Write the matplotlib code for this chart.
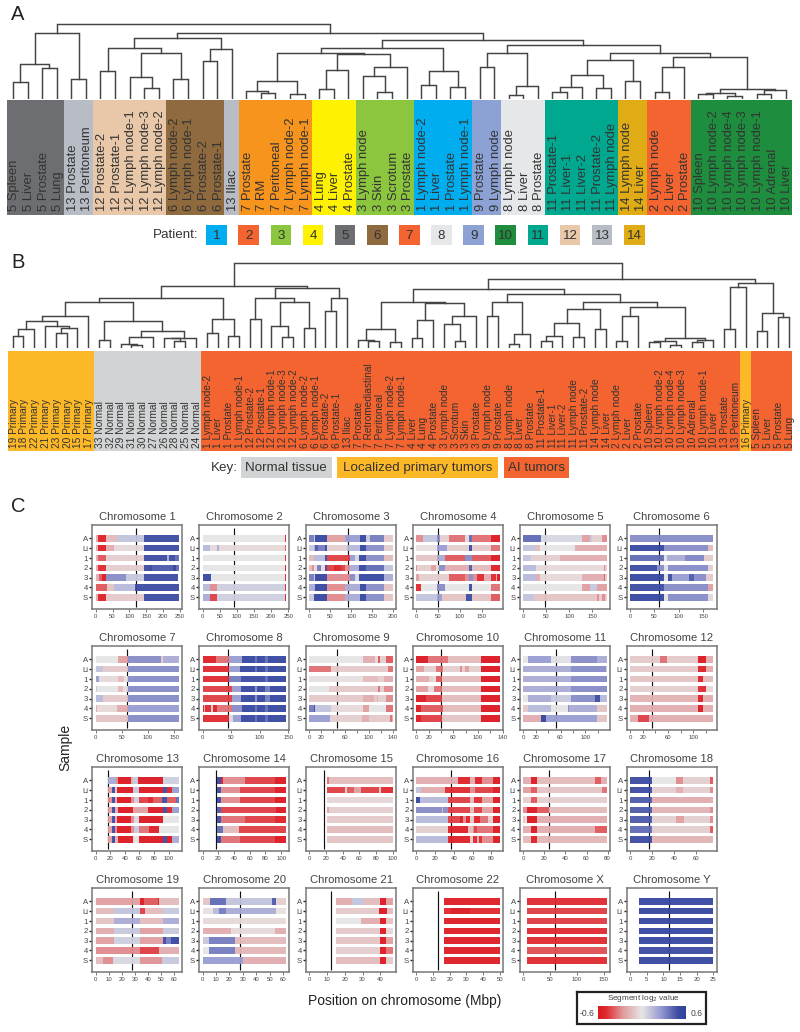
import matplotlib
matplotlib.use("Agg")
import matplotlib.pyplot as plt
import numpy as np
from matplotlib.colors import LinearSegmentedColormap, Normalize

plt.rcParams['font.family'] = ['Liberation Sans', 'DejaVu Sans']

W, H = 800, 1032
o = 0  # a leaf in the trees below

# ---- panel A ----
a_groups = [4, 2, 5, 4, 1, 5, 3, 4, 4, 2, 3, 5, 2, 3, 7]
a_group_colors = ['#6d6e71', '#b8bcc4', '#e8c8a8', '#8f6a3e', '#b8bcc4', '#f7941d', '#fff200', '#8cc63f',
                  '#00aeef', '#8da2d4', '#e6e7e8', '#00a88f', '#e0ac15', '#f46430', '#1e8e3e']
a_labels = ['5 Spleen', '5 Liver', '5 Prostate', '5 Lung', '13 Prostate', '13 Peritoneum', '12 Prostate-2',
            '12 Prostate-1', '12 Lymph node-1', '12 Lymph node-3', '12 Lymph node-2', '6 Lymph node-2',
            '6 Lymph node-1', '6 Prostate-2', '6 Prostate-1', '13 Iliac', '7 Prostate', '7 RM', '7 Peritoneal',
            '7 Lymph node-2', '7 Lymph node-1', '4 Lung', '4 Liver', '4 Prostate', '3 Lymph node', '3 Skin',
            '3 Scrotum', '3 Prostate', '1 Lymph node-2', '1 Liver', '1 Prostate', '1 Lymph node-1', '9 Prostate',
            '9 Lymph node', '8 Lymph node', '8 Liver', '8 Prostate', '11 Prostate-1', '11 Liver-1', '11 Liver-2',
            '11 Prostate-2', '11 Lymph node', '14 Lymph node', '14 Liver', '2 Lymph node', '2 Liver', '2 Prostate',
            '10 Spleen', '10 Lymph node-2', '10 Lymph node-4', '10 Lymph node-3', '10 Lymph node-1', '10 Adrenal',
            '10 Liver']
# [merge height, left, right]
a_5_13 = [66.3, [35, [17.3, o, o], [31, o, o]], [20, o, o]]
a_12_6 = [61, [51, [28.3, o, o], [46.3, [22, o, [10.7, o, o]], [19.7, o, o]]], [50.3, [37.7, o, o], o]]
a_7 = [18.3, [8.3, o, [6.3, o, o]], [5.3, o, o]]
a_4_3 = [45, [28.7, [9.7, o, o], o], [32.3, [23.3, o, [7, o, o]], o]]
a_1 = [28.3, [14.3, o, o], [12, o, o]]
a_9_8 = [46.3, [32.3, o, o], [13, [4.3, o, o], o]]
a_11_14 = [38.7, [24.3, [11.7, [6.7, o, o], o], [10.7, o, o]], [18.3, o, o]]
a_10 = [9.7, [6.3, [5.3, o, o], [3, o, o]], [8.7, [5.3, o, o], o]]
a_2_10 = [41.7, [32.3, [6.7, o, o], o], a_10]
tree_a = [74.7, a_5_13, [66, a_12_6, [59, [51.3, [46.3, a_7, a_4_3], a_1], [54, a_9_8, [46.3, a_11_14, a_2_10]]]]]

legend_patients = list(range(1, 15))
legend_colors = ['#00aeef', '#f46430', '#8cc63f', '#fff200', '#6d6e71', '#8f6a3e', '#f46430', '#e6e7e8', '#8da2d4',
                 '#1e8e3e', '#00a88f', '#e8c8a8', '#b8bcc4', '#e0ac15']

# ---- panel B ----
b_groups = [8, 10, 50, 1, 4]
b_group_colors = ['#fdb827', '#d1d3d4', '#f46430', '#fdb827', '#f46430']
b_labels = ['19 Primary', '18 Primary', '22 Primary', '21 Primary', '23 Primary', '20 Primary', '15 Primary',
            '17 Primary', '33 Normal', '32 Normal', '29 Normal', '31 Normal', '30 Normal', '27 Normal', '26 Normal',
            '28 Normal', '25 Normal', '24 Normal', '1 Lymph node-2', '1 Liver', '1 Prostate', '1 Lymph node-1',
            '12 Prostate-2', '12 Prostate-1', '12 Lymph node-1', '12 Lymph node-3', '12 Lymph node-2',
            '6 Lymph node-2', '6 Lymph node-1', '6 Prostate-2', '6 Prostate-1', '13 Iliac', '7 Prostate',
            '7 Retromediastinal', '7 Peritoneal', '7 Lymph node-2', '7 Lymph node-1', '4 Liver', '4 Lung',
            '4 Prostate', '3 Lymph node', '3 Scrotum', '3 Skin', '3 Prostate', '9 Lymph node', '9 Prostate',
            '8 Lymph node', '8 Liver', '8 Prostate', '11 Prostate-1', '11 Liver-1', '11 Liver-2', '11 Lymph node',
            '11 Prostate-2', '14 Lymph node', '14 Liver', '2 Lymph node', '2 Liver', '2 Prostate', '10 Spleen',
            '10 Lymph node-2', '10 Lymph node-4', '10 Lymph node-3', '10 Adrenal', '10 Lymph node-1', '10 Liver',
            '13 Prostate', '13 Peritoneum', '16 Primary', '5 Spleen', '5 Liver', '5 Prostate', '5 Lung']
b_primary = [32, [27, [18.3, [11.7, o, o], o], [21.7, o, [19.3, [14.3, o, o], o]]], o]
b_normal = [27, [7.7, o, o], [16.7, [10.7, [4, o, [2.3, o, o]], o], [10, [9.3, o, [6.7, o, o]], o]]]
b_1 = [28.3, [14.3, o, o], [11.7, o, o]]
b_12_6 = [59.3, [49.3, [28.3, o, o], [45.7, [21.7, o, [10.3, o, o]], [19.3, o, o]]], [49.3, [37, o, o], o]]
b_7_4_3 = [45.7, [18.3, [7.7, o, [7, o, o]], [5.7, o, o]],
           [45, [28, [9.3, o, o], o], [32, [23.3, o, [6.7, o, o]], o]]]
b_9_8 = [45.7, [32, o, o], [13.3, [4, o, o], o]]
b_11_14 = [38.3, [24.7, [12, [7, o, o], o], [10.3, o, o]], [18.3, o, o]]
b_10 = [9.3, [6.3, [5.3, o, o], [2.7, o, o]], [8, [5.3, o, o], o]]
b_2_10 = [41, [32, [6.7, o, o], o], b_10]
b_far = [64.3, [61, [19, o, o], o], [34.7, [16.7, o, o], [30.3, o, o]]]
tree_b = [84.4, [62, [49.3, [46, b_primary, b_normal], b_1], b_12_6],
          [68.7, [58.3, b_7_4_3, [53.3, b_9_8, [45.7, b_11_14, b_2_10]]], b_far]]

key_labels = ['Normal tissue', 'Localized primary tumors', 'AI tumors']
key_colors = ['#d1d3d4', '#fdb827', '#f46430']

# ---- panel C: segments per sample, (end Mbp, log2 value) ----
samples = ['A', 'Li', '1', '2', '3', '4', 'S']
chr_names = ['1', '2', '3', '4', '5', '6', '7', '8', '9', '10', '11', '12', '13', '14', '15', '16', '17', '18', '19',
             '20', '21', '22', 'X', 'Y']
chr_starts = [0, 0, 0, 0, 0, 0, 0, 0, 0, 0, 0, 0, 17.5, 19, 20.5, 0, 0, 0, 0, 0, 15, 16.4, 7.4, 2.8]
chr_centromeres = [121, 93, 92, 50, 48, 60, 59.5, 45, 46, 40, 53, 35, 17, 17, 18, 37, 24, 17, 28, 28, 12, 13, 59, 11.7]
chr_lengths = [247, 243, 199, 191, 181, 171, 159, 146, 140, 135, 134, 132, 114, 106, 100, 89, 79, 76, 64, 62, 47, 50,
               155, 25]
chr_ticks = [(250, 50), (250, 50), (200, 50), (150, 50), (150, 50), (150, 50), (150, 50), (150, 50), (140, 20),
             (140, 20), (120, 20), (120, 20), (100, 20), (100, 20), (100, 20), (80, 20), (80, 20), (60, 20), (60, 10),
             (60, 10), (40, 10), (50, 10), (150, 50), (25, 5)]
sparse_tick_labels = ['9', '10', '11', '12']

chr1 = [[(8, -.2), (32, -.55), (62, -.15), (142, .12), (247, .5)],
        [(8, -.2), (32, -.55), (55, -.2), (142, -.05), (247, .5)],
        [(8, -.2), (32, -.4), (142, -.08), (212, .5), (217, .2), (235, .5), (247, .4)],
        [(8, -.2), (32, -.5), (142, -.08), (165, .5), (167, .6), (230, .45), (237, .6), (247, .4)],
        [(10, -.2), (20, -.4), (32, -.6), (90, .3), (142, .1), (245, .5)],
        [(33, -.4), (55, -.12), (118, .15), (247, .5)],
        [(8, -.2), (32, -.55), (142, -.1), (247, .5)]]
chr2 = [[(240, 0), (243, -.55)],
        [(22, .15), (42, -.05), (47, .2), (240, -.05), (243, -.4)],
        [(240, 0), (243, -.5)],
        [(240, 0), (243, -.6)],
        [(24, .55), (240, 0), (243, -.5)],
        [(22, .15), (43, -.3), (240, .08), (243, -.5)],
        [(22, .2), (43, -.45), (240, .08), (243, -.55)]]
chr3 = [[(10, .35), (14, .1), (43, .55), (85, -.25), (121, .25), (135, .55), (145, .1), (179, .35), (199, -.1)],
        [(10, .1), (13, .2), (20, .45), (36, .35), (43, .5), (89, -.08), (121, .15), (135, .55), (179, .3), (199, -.08)],
        [(10, -.15), (37, .15), (43, .5), (96, -.45), (109, .25), (119, .05), (135, .55), (179, .3), (199, -.15)],
        [(6, -.15), (12, -.3), (18, -.05), (28, .35), (37, -.05), (43, .5), (58, -.45), (76, -.55), (84, -.45),
         (96, -.3), (119, .2), (135, .55), (179, .4), (199, .12)],
        [(10, .35), (14, .1), (43, .55), (96, -.3), (109, .3), (119, .05), (179, .55), (199, .2)],
        [(14, .2), (43, .55), (85, -.3), (121, .2), (135, .55), (179, .3), (199, -.12)],
        [(12, .1), (43, .55), (85, -.3), (121, .2), (135, .55), (179, .3), (199, -.12)]]
chr4 = [[(15, -.3), (47, .12), (55, .3), (74, -.08), (112, -.35), (120, -.05), (128, .4), (172, -.35), (191, -.6)],
        [(47, -.02), (70, .25), (120, -.08), (128, .5), (172, -.1), (191, -.35)],
        [(47, -.12), (65, .2), (112, -.4), (128, .3), (172, -.4), (191, -.6)],
        [(2, -.3), (34, -.08), (44, -.25), (53, -.05), (66, .3), (120, -.2), (128, .45), (172, -.15), (191, -.55)],
        [(5, -.25), (74, -.08), (112, -.4), (120, -.3), (130, .3), (139, -.3), (156, -.5), (172, -.2), (183, -.5),
         (186, -.2), (191, -.6)],
        [(10, -.5), (47, 0), (66, .3), (120, 0), (128, .5), (172, 0), (191, -.35)],
        [(47, .12), (58, .25), (114, -.12), (128, .5), (172, -.12), (191, -.4)]]
chr5 = [[(38, .4), (128, .05), (145, -.25), (150, .1), (172, -.08), (181, -.3)],
        [(27, .12), (37, -.15), (112, 0), (181, -.2)],
        [(16, .12), (80, -.08), (181, -.2)],
        [(28, .15), (176, -.05), (178, -.3), (181, -.1)],
        [(28, .15), (36, -.2), (128, -.05), (176, -.2), (178, -.4), (181, -.1)],
        [(128, 0), (144, -.25), (160, .1), (181, -.25)],
        [(24, .12), (160, -.12), (164, -.3), (170, -.08), (178, -.3), (181, -.1)]]
chr6 = [[(171, .3)],
        [(70, .55), (160, .3), (171, -.15)],
        [(70, .4), (75, .02), (112, .2), (152, .32), (171, -.1)],
        [(55, .5), (70, .3), (78, .02), (160, .3), (171, -.08)],
        [(70, .55), (78, .02), (86, .5), (120, .25), (132, .45), (155, .3), (171, -.1)],
        [(70, .5), (160, .3), (171, -.25)],
        [(70, .55), (78, -.02), (160, .3), (171, -.06)]]
chr7 = [[(42, 0), (62, -.25), (125, .3), (128, -.1), (159, .2)],
        [(14, .12), (62, -.1), (159, .3)],
        [(6, .25), (42, -.05), (55, -.15), (62, -.02), (159, .3)],
        [(3, .1), (42, 0), (52, -.15), (62, -.03), (159, .3)],
        [(14, .15), (62, -.1), (159, .3)],
        [(2, -.2), (40, -.05), (62, -.2), (159, .25)],
        [(62, -.12), (159, .3)]]
chr8 = [[(24, -.55), (47, -.35), (70, .25), (92, .55), (95, .4), (110, .55), (114, .4), (146, .55)],
        [(47, -.5), (65, .25), (92, .55), (95, .4), (110, .55), (114, .4), (146, .55)],
        [(47, -.5), (67, .35), (110, .5), (114, .4), (146, .55)],
        [(52, -.45), (67, .25), (92, .55), (95, .3), (110, .55), (118, .35), (146, .55)],
        [(52, -.45), (67, .25), (92, .55), (95, .3), (110, .55), (118, .35), (146, .55)],
        [(2, -.6), (5, -.2), (15, -.5), (18, -.1), (25, -.55), (52, -.35), (70, .3), (92, .55), (95, .4), (110, .55),
         (114, .4), (146, .55)],
        [(47, -.5), (53, .05), (67, .25), (92, .55), (95, .4), (110, .55), (114, .4), (146, .55)]]
chr9 = [[(90, 0), (110, -.2), (115, -.05), (118, -.4), (128, -.08), (140, -.4)],
        [(37, -.35), (132, -.1), (140, -.35)],
        [(90, -.02), (115, -.15), (125, -.08), (140, -.2)],
        [(33, 0), (115, -.1), (118, -.35), (125, -.08), (140, -.3)],
        [(90, -.1), (108, -.2), (113, -.1), (116, -.2), (128, -.08), (140, -.3)],
        [(7, .35), (10, .5), (36, .12), (90, -.05), (100, -.25), (128, 0), (140, -.35)],
        [(35, .25), (88, -.08), (100, -.2), (135, -.1), (138, -.35), (140, -.2)]]
chr10 = [[(19, -.6), (51, -.35), (105, -.15), (135, -.6)],
         [(12, -.25), (32, -.08), (44, -.35), (70, -.08), (74, -.3), (79, -.08), (85, -.25), (105, -.08), (135, -.6)],
         [(20, -.2), (27, -.08), (32, -.03), (42, -.4), (105, -.15), (135, -.6)],
         [(19, -.25), (28, -.05), (42, -.35), (105, -.15), (135, -.6)],
         [(16, -.6), (42, -.45), (105, -.15), (135, -.6)],
         [(7, -.6), (44, -.4), (105, -.15), (135, -.6)],
         [(7, -.6), (42, -.45), (105, -.12), (135, -.6)]]
chr11 = [[(7, 0), (44, .25), (77, .02), (119, .3), (134, .2)],
         [(77, .2), (133, .3), (134, .1)],
         [(77, .2), (134, .3)],
         [(77, .2), (134, .3)],
         [(7, 0), (44, .2), (77, .1), (115, .3), (123, .5), (134, .15)],
         [(7, -.1), (44, .15), (72, 0), (74, .3), (119, .2), (134, -.12)],
         [(28, -.2), (37, .6), (119, .25), (134, -.12)]]
chr12 = [[(47, -.1), (58, -.35), (108, -.1), (120, -.6), (132, -.2)],
         [(108, -.1), (120, -.55), (132, -.2)],
         [(108, -.12), (116, -.55), (132, -.15)],
         [(108, -.08), (120, -.5), (132, -.06)],
         [(108, -.18), (116, -.55), (132, -.2)],
         [(108, -.2), (116, -.6), (132, -.2)],
         [(12, -.2), (30, -.45), (132, -.2)]]
chr13 = [[(27.4, .2), (31, -.3), (49, -.6), (51, -.2), (57.5, .1), (92.5, -.6), (114, .08)],
         [(23, -.25), (26, .5), (29, -.1), (51.5, -.6), (60, .1), (91.6, -.6), (98, .5), (104.4, -.55), (114, .25)],
         [(23, -.3), (26, .5), (29, -.2), (49, -.6), (52, -.3), (60, .08), (72, -.45), (78, -.55), (91, -.4), (98, .5),
          (110, -.4), (114, .4)],
         [(23, -.25), (26, .5), (31, -.2), (51.5, -.6), (71, -.25), (92, -.6), (98, .5), (105, -.55), (114, .25)],
         [(23, -.25), (26, .5), (29, -.2), (49, -.6), (52, -.3), (60, .05), (92.5, -.6), (114, 0)],
         [(23, -.25), (26, .5), (29, -.3), (49, -.6), (52, -.3), (60, .1), (73, -.35), (87, -.55), (114, 0)],
         [(23, -.25), (26, .5), (31, -.2), (51, -.6), (60, -.02), (92, -.6), (98, .5), (105, -.6), (114, .2)]]
chr14 = [[(24, .55), (26, -.6), (54, -.3), (92, -.45), (106, -.6)],
         [(24, .5), (48, -.3), (92, -.45), (106, -.6)],
         [(24, .55), (48, -.3), (92, -.45), (106, -.6)],
         [(24, .45), (94, -.45), (106, -.6)],
         [(24, .5), (54, -.35), (92, -.45), (106, -.55)],
         [(26, .4), (47, -.15), (106, -.45)],
         [(24, .55), (48, -.35), (92, -.45), (106, -.6)]]
chr15 = [[(23.5, -.35), (100, -.15)],
         [(43, -.45), (45, -.1), (53, -.4), (62, -.25), (84, -.45), (86, -.1), (100, -.5)],
         [(100, -.06)],
         [(24, -.25), (100, -.08)],
         [(100, -.1)],
         [(100, -.15)],
         [(100, -.12)]]
chr16 = [[(44.5, -.2), (57, -.55), (63, -.2), (70.5, -.55), (82, -.3), (89, -.6)],
         [(5, .12), (31, -.2), (57, -.5), (63, -.3), (82, -.45), (89, -.6)],
         [(4, .55), (34, .15), (57, -.45), (61.5, -.15), (70.5, -.5), (82, -.25), (89, -.6)],
         [(27, .3), (29, -.2), (34, .3), (57, -.45), (61.5, -.15), (70.5, -.45), (82, -.25), (89, -.6)],
         [(34, .15), (47, -.45), (50, -.6), (53, -.3), (57, -.55), (61.5, -.1), (67.5, -.55), (76.5, -.35), (82, -.1),
          (89, -.6)],
         [(34, -.08), (55, -.55), (60, -.15), (62, -.3), (65, -.45), (82, -.35), (89, -.6)],
         [(34, .15), (57, -.55), (61, -.1), (65, -.5), (67, -.2), (70.5, -.5), (82, -.3), (89, -.6)]]
chr17 = [[(7, -.2), (13.5, -.6), (68, -.15), (74, -.4), (79, -.2)],
         [(7, -.25), (13.5, -.4), (75, -.12), (79, -.35)],
         [(7, -.08), (13.5, -.4), (79, -.08)],
         [(4, -.3), (13.5, -.6), (24, -.4), (79, -.15)],
         [(2, -.1), (4, -.02), (13.5, -.6), (79, -.2)],
         [(7, -.2), (13.5, -.6), (68, -.2), (79, -.4)],
         [(7, -.15), (13.5, -.55), (79, -.17)]]
chr18 = [[(20, .5), (42, 0), (48, -.3), (73, -.08), (76, -.4)],
         [(20, .5), (42, -.08), (48, -.2), (73, -.08), (76, -.3)],
         [(20, .45), (76, -.2)],
         [(20, .45), (73, -.18), (76, -.3)],
         [(20, .45), (42, -.08), (49, -.25), (73, -.08), (76, -.3)],
         [(20, .4), (73, -.08), (76, -.4)],
         [(20, .5), (76, -.18)]]
chr19 = [[(34, -.25), (37, -.6), (48, -.4), (49, -.6), (64, -.15)],
         [(14, -.15), (34, .12), (38, -.45), (52, -.15), (64, .1)],
         [(14, -.12), (34, .2), (52, -.15), (64, .2)],
         [(14, -.2), (34, .1), (52, -.25), (64, .1)],
         [(14, -.25), (34, .08), (52, -.25), (54, .5), (58, .35), (64, .55)],
         [(34, -.3), (49, -.45), (64, -.2)],
         [(6, -.15), (13, -.3), (34, .05), (51, -.28), (64, .1)]]
chr20 = [[(5.5, -.12), (17.5, .4), (52, .12), (55, .45), (62, -.08)],
         [(8, -.02), (12, .15), (17.5, .35), (55, .2), (62, -.02)],
         [(62, -.05)],
         [(21, -.2), (54, -.05), (62, -.2)],
         [(5, .1), (24, .35), (62, -.15)],
         [(5, 0), (24, .35), (62, -.17)],
         [(30, .25), (62, -.2)]]
chr21 = [[(24, -.2), (31, .12), (40, -.15), (43, -.6), (47, -.25)],
         [(39, -.1), (44, -.6), (47, -.15)],
         [(29, 0), (40, -.2), (43, -.6), (47, -.12)],
         [(40, -.1), (43, -.6), (47, -.06)],
         [(40, -.12), (43, -.6), (47, -.25)],
         [(40, -.08), (43, -.6), (47, -.35)],
         [(40, -.15), (43, -.6), (47, -.1)]]
chr22 = [[(50, -.58)], [(21, -.5), (32, -.6), (50, -.5)], [(50, -.58)], [(50, -.58)], [(50, -.58)], [(50, -.58)],
         [(50, -.58)]]
chrX = [[(155, -.5)], [(155, -.45)], [(155, -.45)], [(155, -.5)], [(155, -.5)], [(155, -.42)], [(155, -.5)]]
chrY = [[(25, .55)], [(25, .55)], [(25, .55)], [(25, .55)], [(25, .55)], [(25, .5)], [(25, .55)]]
chr_segments = [chr1, chr2, chr3, chr4, chr5, chr6, chr7, chr8, chr9, chr10, chr11, chr12, chr13, chr14, chr15, chr16,
                chr17, chr18, chr19, chr20, chr21, chr22, chrX, chrY]

log2_cmap = LinearSegmentedColormap.from_list(
    'log2', [(0, '#dc1820'), (.09, '#df2a30'), (.28, '#e09a9c'), (.5, '#e6e6e6'), (.72, '#9598d0'), (.91, '#3d4ca3'),
             (1, '#30429c')])
log2_norm = Normalize(-0.6, 0.6)

fig = plt.figure(figsize=(W / 100, H / 100), dpi=100, facecolor='white')


def px_axes(x0, y0, x1, y1):
    ax = fig.add_axes([x0 / W, 1 - y1 / H, (x1 - x0) / W, (y1 - y0) / H])
    return ax


# overlay in page pixels, only for free text and boxes
page = px_axes(0, 0, W, H)
page.set_xlim(0, W)
page.set_ylim(H, 0)
page.axis('off')


def draw_tree(ax, node, next_leaf):
    # returns x, height of the node and the next free leaf
    if node == o:
        return next_leaf, 0, next_leaf + 1
    x1, h1, next_leaf = draw_tree(ax, node[1], next_leaf)
    x2, h2, next_leaf = draw_tree(ax, node[2], next_leaf)
    ax.plot([x1, x1, x2, x2], [h1, node[0], node[0], h2], color='#444444', lw=1.05, solid_joinstyle='miter')
    return (x1 + x2) / 2, node[0], next_leaf


def dendro_panel(tree, labels, groups, colors, top, base, strip_box, first_px, step_px, size, pad, shift):
    ax = px_axes(0, top, W, base)
    ax.set_xlim((0 - first_px) / step_px, (W - first_px) / step_px)
    ax.set_ylim(0, base - top)
    ax.axis('off')
    draw_tree(ax, tree, 0)

    x0, y0, x1, y1 = strip_box
    strip = px_axes(x0, y0, x1, y1)
    strip.set_xlim((x0 - first_px) / step_px, (x1 - first_px) / step_px)
    strip.set_ylim(0, y1 - y0)
    strip.axis('off')
    edges = np.concatenate([[0], np.cumsum(groups)]) - 0.5
    strip.bar(edges[:-1], y1 - y0, width=np.diff(edges), align='edge', color=colors, lw=0)
    for i, label in enumerate(labels):
        strip.text(i + shift, pad, label, rotation=90, ha='center', va='bottom', fontsize=size, color='#333333')


dendro_panel(tree_a, a_labels, a_groups, a_group_colors, 20, 99, (7, 100, 791.7, 215), 13, 14.58, 9.4, 4.2, 0.1)
dendro_panel(tree_b, b_labels, b_groups, b_group_colors, 260, 347.7, (8, 351, 792.3, 451), 12.7, 10.78, 7.3, 3, 0.09)

# patient legend
leg = px_axes(216.6 - 16.06, 225, 216.6 + 32.13 * 13.5, 245)
leg.set_xlim(0.5, 14.5)
leg.set_ylim(0, 1)
leg.axis('off')
leg.bar(legend_patients, 1, width=0.64, bottom=0, color=legend_colors, lw=0)
for p in legend_patients:
    leg.text(p, 0.47, str(p), ha='center', va='center', fontsize=9.6, color='#333333')
page.text(199, 234.5, 'Patient:', ha='right', va='center', fontsize=9.6, color='#333333')

# key
page.text(238, 467.7, 'Key:', ha='right', va='center', fontsize=9.6, color='#333333')
key_x = [(240.7, 331.7), (337.3, 498.3), (504, 569.3)]
for (x0, x1), c, label in zip(key_x, key_colors, key_labels):
    page.fill_between([x0, x1], 457.3, 477.7, color=c, lw=0)
    page.text((x0 + x1) / 2, 467.7, label, ha='center', va='center', fontsize=9.6, color='#333333')

for letter, y in zip('ABC', [15, 263, 507]):
    page.text(11, y, letter, ha='left', va='center', fontsize=14.5, color='#222222')

# chromosome panels
for i, name in enumerate(chr_names):
    row, col = divmod(i, 6)
    x0 = 92.3 + 106.9 * col
    y0 = 525 + 121 * row
    ax = px_axes(x0, y0, x0 + 90, y0 + 84.3)
    length = chr_lengths[i]
    ax.set_xlim(-0.04 * length, 1.04 * length)
    ax.set_ylim(7.22, -1.36)

    ax.plot([chr_centromeres[i]] * 2, [-1.05, 6.95], color='#111111', lw=0.85, zorder=1, solid_capstyle='butt')

    for r, segs in enumerate(chr_segments[i]):
        ends = np.array([s[0] for s in segs], dtype=float)
        vals = [s[1] for s in segs]
        lefts = np.concatenate([[chr_starts[i]], ends[:-1]])
        ax.barh(r, ends - lefts, left=lefts, height=0.66, color=log2_cmap(log2_norm(vals)), lw=0, zorder=2, alpha=0.95)

    ax.set_title('Chromosome ' + name, fontsize=8.1, color='#444444', pad=3.6)
    ax.set_yticks(range(len(samples)))
    ax.set_yticklabels(samples)
    ax.tick_params(axis='y', length=2.2, width=1.0, pad=0.8, labelsize=5.6, color='#222222', labelcolor='#444444')
    top_tick, step = chr_ticks[i]
    ticks = list(range(0, top_tick + 1, step))
    ax.set_xticks(ticks)
    if name in sparse_tick_labels:
        ax.set_xticklabels([str(t) if t == 0 or (t / 20) % 2 == 1 else '' for t in ticks])
    ax.tick_params(axis='x', length=1.8, width=0.5, pad=1.3, labelsize=4.3, color='#444444', labelcolor='#444444')
    for sp in ax.spines.values():
        sp.set_color('#777777')
        sp.set_linewidth(1.1)

page.text(65, 747, 'Sample', rotation=90, ha='center', va='center', fontsize=10, color='#222222')
page.text(405, 1000.7, 'Position on chromosome (Mbp)', ha='center', va='center', fontsize=10, color='#222222')

# colour key
page.plot([576.7, 706, 706, 576.7, 576.7], [992.3, 992.3, 1024.3, 1024.3, 992.3], color='#222222', lw=1.6,
          solid_joinstyle='miter')
cbar = px_axes(598, 1006.3, 685.7, 1019)
cbar.imshow(np.linspace(-0.6, 0.6, 256)[None, :], aspect='auto', cmap=log2_cmap, norm=log2_norm,
            extent=(-0.6, 0.6, 0, 1))
cbar.axis('off')
page.text(643, 998.7, r'Segment log$_2$ value', ha='center', va='center', fontsize=5.9, color='#444444')
page.text(587, 1013, '-0.6', ha='center', va='center', fontsize=6.2, color='#444444')
page.text(696.5, 1013, '0.6', ha='center', va='center', fontsize=6.2, color='#444444')

fig.savefig('out.png', dpi=100)
